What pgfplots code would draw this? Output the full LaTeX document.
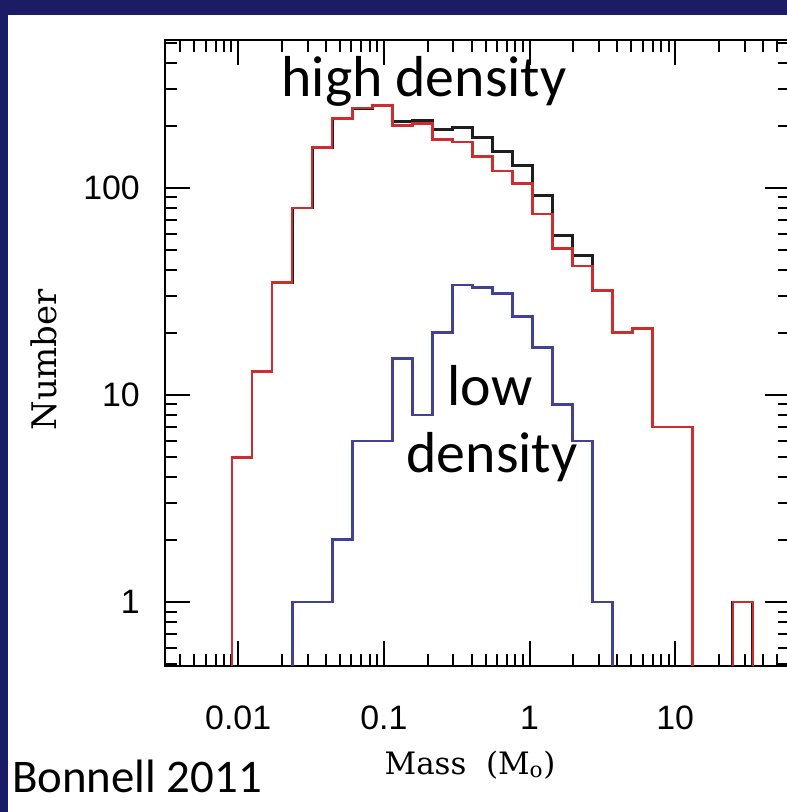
\documentclass[border=0pt]{standalone}
\usepackage{fontspec}
\setmainfont{Carlito}
\newfontfamily\ticksfont{Liberation Sans}
\newfontfamily\labfont{DejaVu Serif}
\usepackage{pgfplots}
\pgfplotsset{compat=1.18}
\newcommand\tl[1]{\hbox{\ticksfont\fontsize{34}{34}\selectfont #1}}
\definecolor{slidenavy}{RGB}{27,27,102}
\definecolor{histred}{RGB}{205,45,45}
\definecolor{histblue}{RGB}{65,65,150}
\definecolor{histblack}{RGB}{30,30,30}
\begin{document}
\begin{tikzpicture}[x=1bp,y=1bp]
\useasboundingbox (0,0) rectangle (787,812);
\clip (0,0) rectangle (787,812);
\fill[slidenavy] (0,0) rectangle (787,812);
\fill[white] (8,0) rectangle (787,797);
\begin{axis}[
  at={(165bp,146bp)}, anchor=south west,
  scale only axis, width=625bp, height=626bp,
  xmode=log, ymode=log,
  xmin=0.003148, xmax=61.4, ymin=0.491, ymax=518.8,
  axis line style={line width=2.4bp, black},
  tick align=inside,
  /pgf/number format/assume math mode=true,
  xtick={0.01,0.1,1,10}, xticklabels={\tl{0.01},\tl{0.1},\tl{1},\tl{10}},
  ytick={1,10,100}, yticklabels={\tl{1},\tl{10},\tl{100}},
  minor xtick={0.004,0.005,0.006,0.007,0.008,0.009,0.02,0.03,0.04,0.05,0.06,0.07,0.08,0.09,0.2,0.3,0.4,0.5,0.6,0.7,0.8,0.9,2,3,4,5,6,7,8,9,20,30,40,50,60},
  minor ytick={0.5,0.6,0.7,0.8,0.9,2,3,4,5,6,7,8,9,20,30,40,50,60,70,80,90,200,300,400,500},
  major tick length=25bp, minor tick length=12bp,
  every tick/.style={black, line width=2bp},
  tick pos=both, ticklabel pos=left,
  tick label style={inner sep=0pt},
  xticklabel style={anchor=north},
  yticklabel style={anchor=east},
  xticklabel shift=40bp, yticklabel shift=25bp,
  xlabel={Mass\ \ (M\textsubscript{o})},
  ylabel={Number},
  xlabel style={font=\labfont\fontsize{31}{31}\selectfont, at={(axis description cs:0.488,-0.158)}, anchor=center},
  ylabel style={font=\labfont\fontsize{34}{34}\selectfont, at={(axis description cs:-0.194,0.489)}, anchor=center},
]
% black (full sample)
\addplot[const plot mark left, histblack, line width=2.8bp] coordinates {
(0.009078,0.1) (0.009078,5) (0.012455,13) (0.017100,35) (0.023473,80) (0.032211,157)
(0.044205,217) (0.060674,243) (0.083272,250) (0.114288,209) (0.156819,211) (0.215278,192)
(0.295410,196) (0.405509,176) (0.556486,150) (0.763836,129) (1.04834,92) (1.43880,59)
(1.97471,47) (2.71019,32) (3.71918,20) (5.10505,21) (7.00648,7) (9.61612,7)
(13.1979,0.1) (24.8600,1) (34.1193,0.1)};
% red (high density)
\addplot[const plot mark left, histred, line width=2.6bp] coordinates {
(0.009078,0.1) (0.009078,5) (0.012455,13) (0.017100,35) (0.023473,80) (0.032211,157)
(0.044205,217) (0.060674,243) (0.083272,250) (0.114288,201) (0.156819,205) (0.215278,171)
(0.295410,167) (0.405509,142) (0.556486,121) (0.763836,105) (1.04834,75) (1.43880,51)
(1.97471,42) (2.71019,32) (3.71918,20) (5.10505,21) (7.00648,7) (9.61612,7)
(13.1979,0.1) (24.8600,1) (34.1193,0.1)};
% blue (low density)
\addplot[const plot mark left, histblue, line width=2.8bp] coordinates {
(0.023473,0.1) (0.023473,1) (0.032211,1) (0.044205,2) (0.060674,6) (0.083272,6)
(0.114288,15) (0.156819,8) (0.215278,20) (0.295410,34) (0.405509,33) (0.556486,31)
(0.763836,24) (1.04834,17) (1.43880,9) (1.97471,6) (2.71019,1) (3.71918,0.1)};
\end{axis}
\node[anchor=base, font=\fontsize{58}{58}\selectfont] at (424,715) {high density};
\node[anchor=base, font=\fontsize{58}{58}\selectfont] at (490,406) {low};
\node[anchor=base, font=\fontsize{58}{58}\selectfont] at (492,339) {density};
\node[anchor=base west, inner sep=0pt, font=\fontsize{47}{47}\selectfont] at (12,19) {Bonnell 2011};
\end{tikzpicture}
\end{document}
